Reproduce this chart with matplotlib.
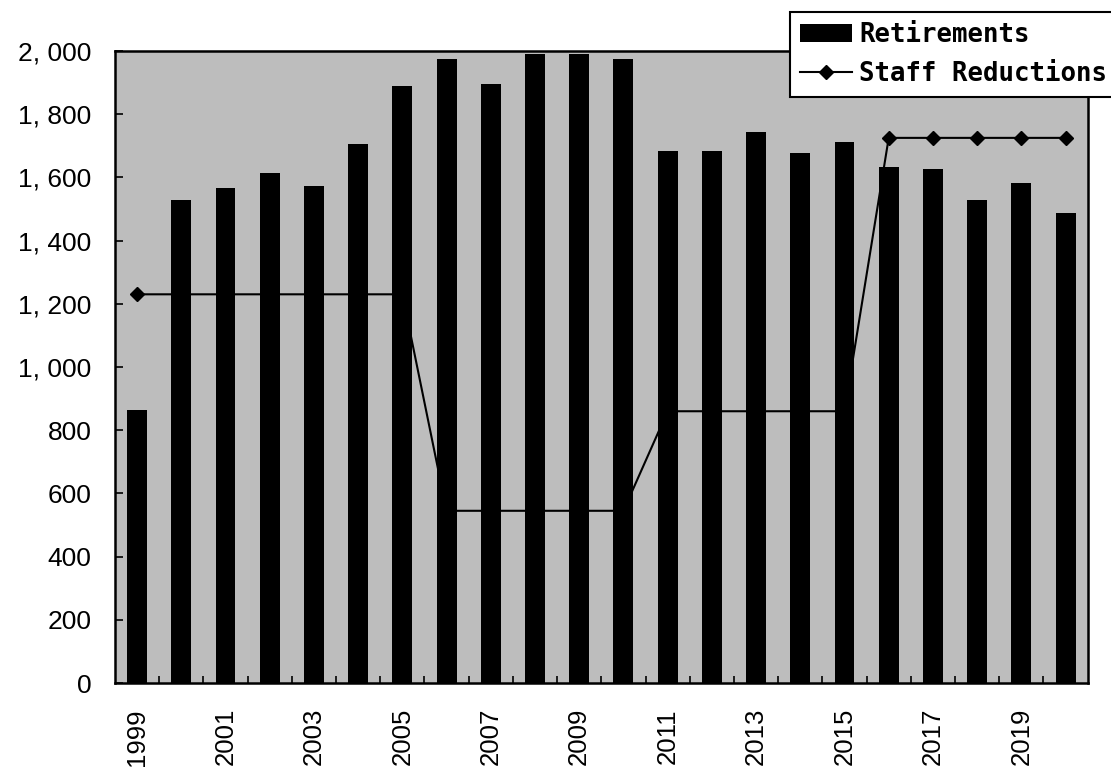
import numpy as np
import matplotlib
matplotlib.use("Agg")
from matplotlib import pyplot as plt
from matplotlib.ticker import FuncFormatter

years = list(range(1999, 2021))
retirements = [865, 1528, 1566, 1614, 1573, 1706, 1889, 1975, 1896, 1991, 1991,
               1975, 1684, 1684, 1744, 1677, 1712, 1633, 1627, 1528, 1582, 1487]
staff_reductions = [1230, 1230, 1230, 1230, 1230, 1230, 1230,
                    545, 545, 545, 545, 545,
                    860, 860, 860, 860, 860,
                    1725, 1725, 1725, 1725, 1725]

plt.rcParams['font.family'] = ['Liberation Sans', 'DejaVu Sans']

fig = plt.figure(figsize=(11.11, 7.71), dpi=100)
ax = fig.add_axes([0.1035, 0.1141, 0.8755, 0.8198])
ax.set_facecolor('#bdbdbd')

x = np.arange(len(years))
# line sits behind the bars, as in the original
line, = ax.plot(x, staff_reductions, color='black', linewidth=1.5,
                marker='D', markersize=7, zorder=2, label='Staff Reductions')
bars = ax.bar(x, retirements, width=0.45, color='black', zorder=3,
              label='Retirements')

ax.set_xlim(-0.5, len(years) - 0.5)
ax.set_ylim(0, 2000)
ax.set_yticks(np.arange(0, 2001, 200))
# the scanned original shows a wide gap after the thousands comma
ax.yaxis.set_major_formatter(FuncFormatter(lambda v, p: f"{int(v):,}".replace(',', ', ')))
ax.tick_params(axis='y', direction='in', length=6, width=1.2, pad=17,
               labelsize=19)

ax.set_xticks(x[::2])
ax.set_xticklabels([str(y) for y in years[::2]], rotation=90, fontsize=18.5)
ax.tick_params(axis='x', which='major', length=0, pad=18)
ax.set_xticks(x[:-1] + 0.5, minor=True)
ax.tick_params(axis='x', which='minor', direction='in', length=5, width=1.2)

for s in ax.spines.values():
    s.set_linewidth(1.8)

leg = fig.legend([bars, line], ['Retirements', 'Staff Reductions'],
                 loc='upper left', bbox_to_anchor=(790 / 1111, 1 - 12 / 771),
                 prop={'family': 'DejaVu Sans Mono', 'weight': 'bold', 'size': 18.5},
                 fancybox=False, framealpha=1, edgecolor='black',
                 handlelength=2.0, handletextpad=0.3, labelspacing=0.5,
                 borderpad=0.4, borderaxespad=0)
leg.get_frame().set_linewidth(1.5)

fig.savefig('out.png', dpi=100)
